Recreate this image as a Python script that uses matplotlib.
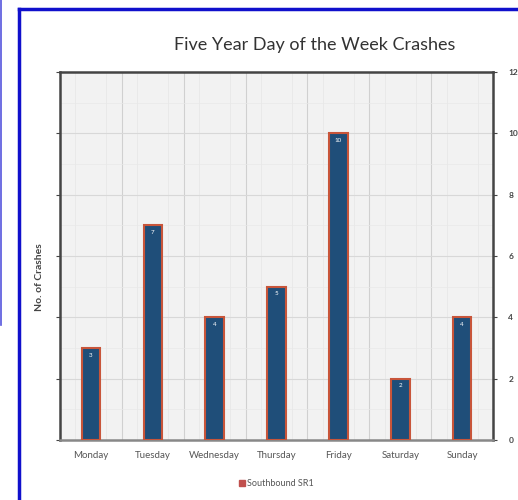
import matplotlib.pyplot as plt
from matplotlib.patches import Rectangle
from matplotlib.lines import Line2D

days = ["Monday", "Tuesday", "Wednesday", "Thursday", "Friday", "Saturday", "Sunday"]
crashes = [3, 7, 4, 5, 10, 2, 4]
yticks = [0, 2, 4, 6, 8, 10, 12]

plt.rcParams['font.family'] = ['Lato', 'DejaVu Sans']

fig = plt.figure(figsize=(5.18, 5.0), dpi=100)
ax = fig.add_axes([0.1158, 0.12, 0.836, 0.736])
ax.set_facecolor("#f2f2f2")

x = list(range(len(days)))
bars = ax.bar(x, crashes, width=0.3, color="#1f4e79", edgecolor="#c8553a",
              linewidth=1.5, zorder=3, label="Southbound SR1")
for xi, v in zip(x, crashes):
    ax.text(xi, v - 0.15, str(v), ha="center", va="top", color="white",
            fontsize=4.5, zorder=4)

ax.set_xlim(-0.5, len(days) - 0.5)
ax.set_ylim(0, 12)
ax.set_xticks(x)
ax.set_xticklabels(days, fontsize=7, color="#555555")
ax.tick_params(axis="x", length=0, pad=8)

# vertical gridlines at category boundaries
for b in range(1, len(days)):
    ax.axvline(b - 0.5, color="#d0d0d0", linewidth=0.8, zorder=1)
for b in x:
    ax.axvline(b - 0.25, color="#e6e6e6", linewidth=0.5, zorder=1)
    ax.axvline(b + 0.25, color="#e6e6e6", linewidth=0.5, zorder=1)
for t in yticks[1:-1]:
    ax.axhline(t, color="#d8d8d8", linewidth=0.8, zorder=1)
    ax.axhline(t + 1, color="#e8e8e8", linewidth=0.5, zorder=1)
ax.axhline(1, color="#e8e8e8", linewidth=0.5, zorder=1)

ax.set_yticks(yticks)
ax.yaxis.tick_right()
ax.tick_params(axis="y", which="both", left=True, right=True, labelleft=False,
               labelright=True, labelsize=6, length=3, colors="#444444", pad=8)
for lbl in ax.get_yticklabels():
    lbl.set_fontweight("bold")
ax.set_ylabel("No. of Crashes", fontsize=7.5, color="#444444", fontweight="bold")
ax.yaxis.set_label_position("left")
ax.yaxis.set_label_coords(-0.036, 0.443)

for s in ax.spines.values():
    s.set_color("#444444")
    s.set_linewidth(1.8)
ax.spines["bottom"].set_color("#888888")

fig.text(0.608, 0.91, "Five Year Day of the Week Crashes", ha="center",
         va="center", fontsize=13, color="#333333")

ax.legend(handles=[Rectangle((0, 0), 1, 1, color="#c0504d")],
          labels=["Southbound SR1"], loc="upper center",
          bbox_to_anchor=(0.5, -0.085), frameon=False, fontsize=6.5,
          handlelength=0.7, handleheight=0.7, handletextpad=0.2,
          labelcolor="#555555")

# blue screenshot frame
fig.add_artist(Line2D([19 / 518, 19 / 518], [0, 1 - 9 / 500], color="#1010cc",
                      linewidth=2.5, transform=fig.transFigure))
fig.add_artist(Line2D([19 / 518, 1], [1 - 9 / 500, 1 - 9 / 500], color="#1010cc",
                      linewidth=2.5, transform=fig.transFigure))
fig.add_artist(Line2D([0.001, 0.001], [1, 1 - 325 / 500], color="#5555dd",
                      linewidth=1.2, transform=fig.transFigure))

fig.savefig("out.png", dpi=100)
